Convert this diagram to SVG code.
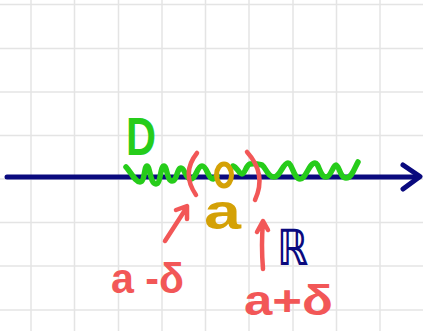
<svg xmlns="http://www.w3.org/2000/svg" width="423" height="331" viewBox="0 0 423 331">
<style>
.grid line{stroke:#e4e4e4;stroke-width:1.5}
.ink{fill:none;stroke-linecap:round;stroke-linejoin:round}
.green{stroke:#26cc1a;stroke-width:5.5}
.red{stroke:#f25757;stroke-width:4.5}
.navy{stroke:#0a0a7e;stroke-width:5}
.gold{stroke:#d4a106;stroke-width:5}
.lbl{font-family:"Liberation Sans","DejaVu Sans",sans-serif;font-weight:bold}
</style>
<rect width="423" height="331" fill="#ffffff"/>
<g class="grid">
<line x1="31" y1="0" x2="31" y2="331"/>
<line x1="74.5" y1="0" x2="74.5" y2="331"/>
<line x1="118.5" y1="0" x2="118.5" y2="331"/>
<line x1="162" y1="0" x2="162" y2="331"/>
<line x1="205.5" y1="0" x2="205.5" y2="331"/>
<line x1="249" y1="0" x2="249" y2="331"/>
<line x1="293" y1="0" x2="293" y2="331"/>
<line x1="336.5" y1="0" x2="336.5" y2="331"/>
<line x1="380" y1="0" x2="380" y2="331"/>
<line x1="0" y1="4.5" x2="423" y2="4.5"/>
<line x1="0" y1="48.5" x2="423" y2="48.5"/>
<line x1="0" y1="92" x2="423" y2="92"/>
<line x1="0" y1="135.5" x2="423" y2="135.5"/>
<line x1="0" y1="179" x2="423" y2="179"/>
<line x1="0" y1="222.5" x2="423" y2="222.5"/>
<line x1="0" y1="266" x2="423" y2="266"/>
<line x1="0" y1="310" x2="423" y2="310"/>
</g>
<g id="axis">
<path class="ink navy" d="M7,177 L419,177"/>
<path class="ink navy" d="M403,165 L420,176.5 L403,189"/>
<text x="277" y="265" font-family="DejaVu Sans, sans-serif" font-size="50" font-weight="bold" fill="#0a0a7e" textLength="31" lengthAdjust="spacingAndGlyphs">ℝ</text>
</g>
<g id="set-D">
<path class="ink green" d="M126,167 C131,172 135,182 140,182 C145,182 144,166 147,166 C150,166 150,184 156,184 C161,184 160,166 164,166 C167,166 167,181 172,181 C177,181 177,168 181,168 C185,168 185,179 191,179 C196,179 197,166 202,166 C207,166 208,179 213,179 L217,176"/>
<path class="ink green" d="M233,166 C237,167 239,174 242,174 C245,174 246,165 250,164 C255,163 258,164 262,165 C266,168 268,177 274,177 C280,177 283,163 288,163 C292,163 294,179 300,179 C306,179 309,163 315,163 C319,163 320,177 326,177 C331,177 333,165 336,165 C339,165 340,178 346,178 C352,178 355,167 358,162"/>
<text class="lbl" x="126" y="155" font-size="54" fill="#26cc1a" textLength="30" lengthAdjust="spacingAndGlyphs">D</text>
</g>
<g id="point-a">
<ellipse class="ink gold" cx="224" cy="175" rx="7.5" ry="11"/>
<text class="lbl" x="204" y="229" font-size="50" fill="#d4a106" textLength="37" lengthAdjust="spacingAndGlyphs">a</text>
</g>
<g id="bound-left">
<path class="ink red" d="M197,153 Q181,173 196,195"/>
<text class="lbl" x="111" y="293" font-size="42" fill="#f25757" textLength="73" lengthAdjust="spacingAndGlyphs">a -δ</text>
</g>
<g id="bound-right">
<path class="ink red" d="M247,152 Q267,174 255,200"/>
<text class="lbl" x="244" y="315" font-size="42" fill="#f25757" textLength="89" lengthAdjust="spacingAndGlyphs">a+δ</text>
</g>
<g id="connectors">
<path class="ink red" d="M165,241 L187,207 M176,210 L187,206 L187,219"/>
<path class="ink red" d="M263,269 Q261,245 263,222 M257,232 L263,221 L268,230"/>
</g>
</svg>
